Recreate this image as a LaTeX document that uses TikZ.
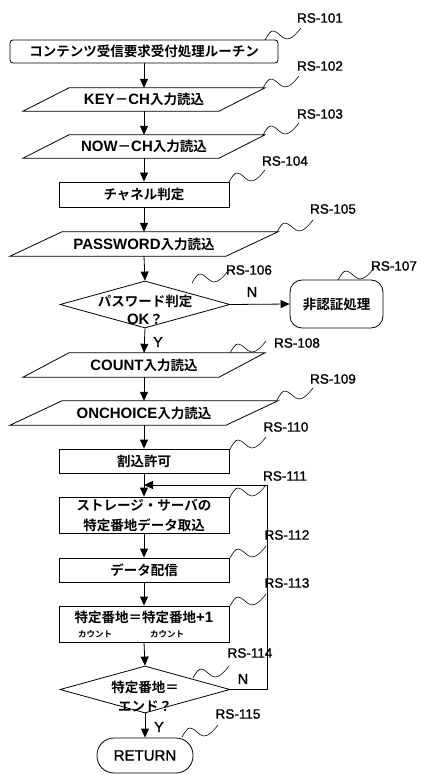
\documentclass[tikz,border=0pt]{standalone}
\usepackage{fontspec}
\setmainfont{Liberation Sans}
\newfontfamily\jpf{Noto Sans CJK JP}[BoldFont={Noto Sans CJK JP Bold}]
\newfontfamily\rsf{Liberation Sans}[FakeBold=1.2]
\usetikzlibrary{arrows.meta,shapes.geometric,calc}
\newcommand\JA[1]{{\jpf\bfseries\fontsize{13.5}{16}\selectfont #1}}
\newcommand\LA[1]{{\bfseries\fontsize{15}{16}\selectfont #1}}
\newcommand\para[3]{\draw[shp] ($(#1.north)+({-#2+#3},0)$) -- ($(#1.north)+({#2+#3},0)$) -- ($(#1.south)+({#2-#3},0)$) -- ($(#1.south)+({-#2-#3},0)$) -- cycle;}
\newcommand\squig[1]{\draw[sq] #1 sin ++(8,-9) cos ++(7,4) sin ++(7,4) cos ++(14,-11);}
\tikzset{
  shp/.style={line width=0.8pt},
  sq/.style={line width=0.6pt},
  arr/.style={line width=0.8pt,-{Triangle[length=9pt,width=8pt]}},
  box/.style={draw,line width=0.8pt,minimum width=170pt,inner sep=0pt},
  rbox/.style={box,rounded corners=3pt},
  ptext/.style={inner sep=0pt,minimum height=23pt},
  dia/.style={draw,diamond,line width=0.8pt,inner sep=0pt,minimum width=170pt,minimum height=47pt},
  rs/.style={inner sep=0pt,font=\rsf\fontsize{13.5}{15}\selectfont},
  yn/.style={inner sep=0pt,font=\rsf\fontsize{14.5}{15}\selectfont}
}
\begin{document}
\begin{tikzpicture}[x=1pt,y=-1pt]
\useasboundingbox (0,0) rectangle (420,775);
% shapes
\node[rbox,minimum width=268pt,minimum height=23pt] (n101) at (144,51.5) {\JA{コンテンツ受信要求受付処理ルーチン}};
\node[ptext] (n102) at (144,99.5) {\LA{KEY}\JA{－}\LA{CH}\JA{入力読込}};
\para{n102}{98}{23}
\node[ptext] (n103) at (144,146.5) {\LA{NOW}\JA{－}\LA{CH}\JA{入力読込}};
\para{n103}{98}{23}
\node[box,minimum height=25pt] (n104) at (144,194.5) {\JA{チャネル判定}};
\node[ptext,minimum height=24pt] (n105) at (144,244) {\LA{PASSWORD}\JA{入力読込}};
\para{n105}{108}{26}
\node[dia] (d1) at (145,304.5) {};
\node[align=center,inner sep=0pt,font={\fontsize{13.5}{18}\selectfont}] (t106) at (145,310) {\JA{パスワード判定}\\\LA{OK}\JA{？}};
\node[rbox,rounded corners=12pt,minimum width=93pt,minimum height=48pt] (n107) at (336.5,304) {\JA{非認証処理}};
\node[ptext,minimum height=24pt] (n108) at (144,365) {\LA{COUNT}\JA{入力読込}};
\para{n108}{98}{23}
\node[ptext,minimum height=24pt] (n109) at (144,413) {\LA{ONCHOICE}\JA{入力読込}};
\para{n109}{108}{26}
\node[box,minimum height=24pt] (n110) at (144,461) {\JA{割込許可}};
\node[box,minimum height=36pt,align=center,font={\fontsize{13.5}{20}\selectfont}] (n111) at (144,515) {\JA{ストレージ・サーバの}\\\JA{特定番地データ取込}};
\node[box,minimum height=24pt] (n112) at (144,570) {\JA{データ配信}};
\node[box,minimum height=36pt] (n113) at (144,624) {};
\node[inner sep=0pt] (t113) at (144,617) {\JA{特定番地＝特定番地}\LA{+1}};
\node[inner sep=0pt,font=\jpf\bfseries\fontsize{8.5}{10}\selectfont] (k1) at (95,634) {カウント};
\node[inner sep=0pt,font=\jpf\bfseries\fontsize{8.5}{10}\selectfont] (k2) at (167,634) {カウント};
\node[dia] (d2) at (145,689.5) {};
\node[align=center,inner sep=0pt,font={\fontsize{13.5}{19}\selectfont}] (t114) at (145,697) {\JA{特定番地＝}\\\JA{エンド？}};
\node[draw,line width=0.8pt,rounded corners=17pt,minimum width=96pt,minimum height=35pt,inner sep=0pt,font=\rsf\fontsize{15}{16}\selectfont] (n115) at (145,755.5) {RETURN};
% connectors
\coordinate (j) at (144,485);
\draw[arr] (n101.south) -- (n102.north);
\draw[arr] (n102.south) -- (n103.north);
\draw[arr] (n103.south) -- (n104.north);
\draw[arr] (n104.south) -- (n105.north);
\draw[arr] (n105.south) -- (d1.north);
\draw[arr] (d1.east) -- (n107.west);
\draw[arr] (d1.south) -- (n108.north);
\draw[arr] (n108.south) -- (n109.north);
\draw[arr] (n109.south) -- (n110.north);
\draw[arr] (n110.south) -- (n111.north);
\draw[arr] (n111.south) -- (n112.north);
\draw[arr] (n112.south) -- (n113.north);
\draw[arr] (n113.south) -- (d2.north);
\draw[arr] (d2.south) -- (n115.north);
\draw[arr] (d2.east) -- ++(37,0) |- (j);
% Y/N
\node[yn] (N1) at (252,292) {N};
\node[yn] (Y1) at (158,342) {Y};
\node[yn] (N2) at (243,679) {N};
\node[yn] (Y2) at (159,727) {Y};
% labels
\node[rs] (l101) at (320,18) {RS-101};
\node[rs] (l102) at (320,66) {RS-102};
\node[rs] (l103) at (320,114) {RS-103};
\node[rs] (l104) at (285,161) {RS-104};
\node[rs] (l105) at (333,209) {RS-105};
\node[rs] (l106) at (249,270) {RS-106};
\node[rs] (l107) at (394,266) {RS-107};
\node[rs] (l108) at (297,343) {RS-108};
\node[rs] (l109) at (333,379) {RS-109};
\node[rs] (l110) at (286,427) {RS-110};
\node[rs] (l111) at (285,476) {RS-111};
\node[rs] (l112) at (287,535) {RS-112};
\node[rs] (l113) at (287,583) {RS-113};
\node[rs] (l114) at (250,653) {RS-114};
\node[rs] (l115) at (238,714) {RS-115};
% squiggles
\squig{(265,40)}
\squig{(263,88)}
\squig{(263,135)}
\squig{(229,182)}
\squig{(277,232)}
\squig{(192,283)}
\squig{(338,280)}
\squig{(230,353)}
\squig{(277,400)}
\squig{(230,449)}
\squig{(230,497)}
\squig{(230,558)}
\squig{(230,606)}
\squig{(193,678)}
\squig{(182,737)}
\end{tikzpicture}
\end{document}
